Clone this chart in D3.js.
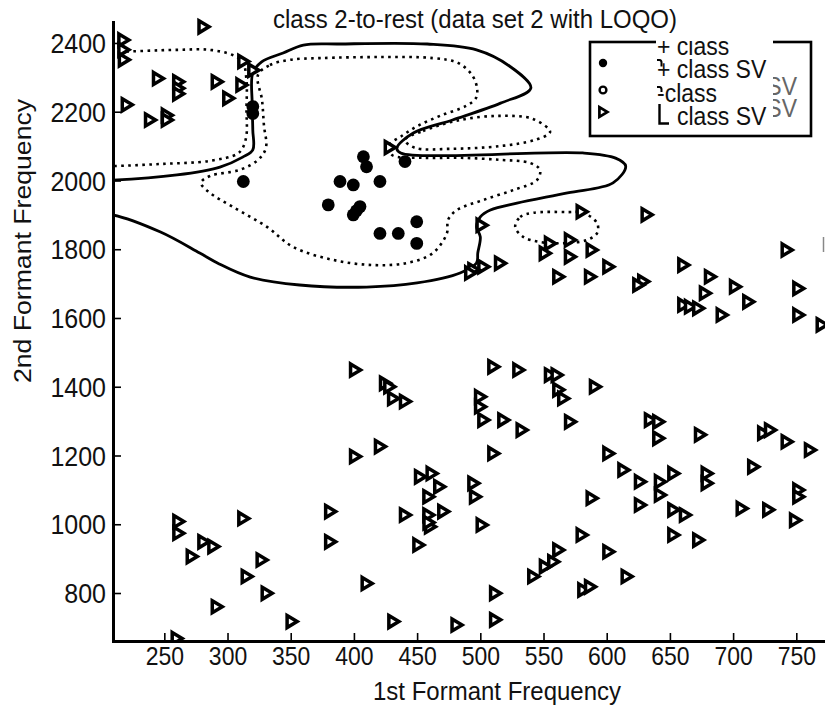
<!DOCTYPE html>
<html>
<head>
<meta charset="utf-8">
<script src="https://cdn.jsdelivr.net/npm/d3@7"></script>
<style>
  body { margin: 0; background: #fff; }
  svg { display: block; }
  text { font-family: "Liberation Sans", Arial, Helvetica, sans-serif; fill: #111; }
</style>
</head>
<body>
<svg id="chart" width="825" height="707"></svg>
<script>
// ---- tick values ----
const xTicks = [250, 300, 350, 400, 450, 500, 550, 600, 650, 700, 750];
const yTicks = [800, 1000, 1200, 1400, 1600, 1800, 2000, 2200, 2400];

// ---- "+" class points (1st formant, 2nd formant) ----
const posClass = [
  [320, 2215], [320, 2195], [407.5, 2069], [410, 2040], [440.4, 2055],
  [312.5, 1997], [389, 1997], [399.5, 1987], [420.6, 1997], [379.7, 1929],
  [404.8, 1924], [399.5, 1900], [402, 1912], [420.6, 1846], [435.1, 1846],
  [449.7, 1880], [449.7, 1817]
];

// ---- "-" class points ----
const negClass = [
  [217.6, 2409], [217.6, 2380], [218, 2351], [220.3, 2220], [281, 2447],
  [245, 2297], [261, 2287], [261, 2268], [261, 2252], [291.5, 2287],
  [300.6, 2239], [311, 2278], [312.5, 2346], [320.4, 2321], [238.7, 2176],
  [252, 2190], [252, 2176],
  [502.4, 1749], [494.5, 1740], [492, 1731], [515.6, 1759], [501, 1870],
  [428.4, 2096], [580.2, 1909], [555.1, 1817], [551, 1788], [570.9, 1827],
  [570.9, 1778], [588.1, 1798], [601.3, 1749], [561.7, 1720], [586.8, 1720],
  [631.6, 1900], [628.9, 1706], [625, 1696], [660.6, 1754], [681.7, 1720],
  [701.5, 1691], [712, 1647], [677.7, 1672], [660.6, 1638], [665.9, 1633],
  [672.4, 1628], [691, 1609], [742.4, 1798], [751.6, 1686], [751.6, 1609],
  [770.1, 1580],
  [400.9, 1449], [424.6, 1410], [428, 1400], [431, 1366], [440.4, 1357],
  [420.6, 1226], [400.9, 1197], [452.3, 1138], [461.5, 1148], [467.5, 1109],
  [458.9, 1080], [470.7, 1037], [458.9, 1027], [460.2, 993], [459, 1005],
  [440.4, 1027], [451, 940], [381.2, 1037], [381.2, 949], [410.1, 828],
  [431.2, 717], [350.7, 717], [291.5, 760], [261.1, 1008], [261.1, 974],
  [271.7, 906], [280.9, 949], [288.8, 935], [312.5, 1017], [327, 896],
  [315.2, 848], [331, 799], [259.8, 668],
  [510.3, 1458], [530.1, 1449], [555.1, 1434], [560.4, 1434], [561.7, 1391],
  [565.6, 1366], [590.7, 1400], [499.8, 1371], [499.8, 1342], [502.4, 1303],
  [518.2, 1303], [532.7, 1274], [571, 1298], [510.3, 1206], [634.2, 1303],
  [640.8, 1298], [640.8, 1250], [673.8, 1260], [601.3, 1206], [613.2, 1158],
  [626.3, 1124], [642.1, 1124], [652.7, 1148], [642.1, 1085], [626.3, 1056],
  [679.1, 1148], [679.1, 1119], [652.7, 1042], [661.9, 1027], [652.7, 969],
  [672.4, 954], [706.8, 1046], [727.8, 1042], [715.9, 1167], [723.8, 1265],
  [729.2, 1274], [742.4, 1240], [760.8, 1216], [751.6, 1100], [751.6, 1080],
  [749, 1012], [588.1, 1076], [494.5, 1119], [495.8, 1080], [501.1, 998],
  [580.2, 969], [601.3, 920], [615.8, 848], [541.9, 848], [551.1, 877],
  [557.7, 891], [561.7, 925], [581.5, 809], [586.8, 818], [511.7, 799],
  [511.7, 722], [481.2, 707]
];

// ---- decision boundary f(x) = 0 (closed, its left part lies off the axes) ----
const boundary = [
  [185, 2000], [209, 2001], [260, 2016], [294, 2039], [312, 2068], [320, 2089],
  [320, 2147], [319.5, 2225], [320, 2313], [327, 2345], [344, 2371], [360, 2394],
  [389, 2397], [458, 2397], [497, 2380], [523, 2333], [540, 2269], [516, 2225],
  [478, 2176], [447, 2138], [434, 2094], [437, 2080], [581, 2080], [607, 2065],
  [615, 2042], [605, 1993], [569, 1964], [529, 1934], [508, 1914], [500, 1894],
  [497, 1865], [500, 1836], [498, 1789], [497, 1760], [484, 1731], [450, 1702],
  [410, 1690], [357, 1696], [318, 1719], [292, 1760], [278, 1789], [247, 1850],
  [209, 1900], [185, 1905]
];

// ---- margin contours f(x) = +/-1 ----
const marginTopLeft = [
  [185, 2374], [209, 2374], [260, 2380], [286, 2380], [304, 2365], [312, 2345],
  [315, 2292], [315, 2205], [315, 2132], [312, 2095], [307.5, 2077], [286, 2057],
  [247, 2048], [209, 2042], [185, 2042]
];
const marginInner = [
  [324.1, 2307], [333.6, 2336], [349.4, 2351], [373.2, 2356], [420.6, 2359],
  [462.5, 2356], [482.3, 2342], [493.4, 2307], [497.4, 2269], [496.6, 2240],
  [488.7, 2217], [468.1, 2188], [450.7, 2159], [438, 2130], [427, 2100],
  [430.1, 2074], [454.7, 2066], [483.9, 2066], [515.6, 2060], [539.3, 2051],
  [547.2, 2031], [544.8, 2001], [525.9, 1972], [502.1, 1943], [481.5, 1914],
  [474.4, 1885], [473.6, 1847], [462.5, 1789], [441.9, 1760], [415, 1754],
  [383.4, 1769], [351.7, 1807], [331.2, 1865], [304.3, 1923], [286.1, 1964],
  [279, 1993], [286.1, 2013], [309.8, 2031], [324.1, 2060], [330.4, 2095],
  [328.8, 2161], [327.3, 2234]
];
const marginWedge = [
  [440.4, 2118], [454.7, 2144], [483.9, 2176], [515.6, 2188], [541.7, 2179],
  [555.2, 2141], [543.3, 2118], [515.6, 2100], [476, 2092], [448.3, 2095]
];
const marginSmall = [
  [527.6, 1865], [531.6, 1894], [541.9, 1906], [568.6, 1908], [581.3, 1906],
  [592.4, 1876], [592.4, 1847], [584.5, 1827], [568.6, 1818], [547.3, 1821],
  [533.9, 1836]
];

// ---- text ----
const titleText = "class 2-to-rest (data set 2 with LOQO)";
const xTitle = "1st Formant Frequency";
const yTitle = "2nd Formant Frequency";
const legendLabels = ["+ class", "+ class SV", "-class", "class SV"];

// ---- layout ----
const TS = 1.11;   // vertical stretch applied to all lettering
const plot = { left: 113, right: 825, top: 22, bottom: 641 };
const svg = d3.select("#chart");

const x = d3.scaleLinear().domain([209.4, 772.7]).range([plot.left, plot.right]);
const y = d3.scaleLinear().domain([660.4, 2461]).range([plot.bottom, plot.top]);

const defs = svg.append("defs");
defs.append("clipPath").attr("id", "clipArea").append("rect")
  .attr("x", plot.left).attr("y", plot.top)
  .attr("width", plot.right - plot.left + 10).attr("height", plot.bottom - plot.top);
defs.append("clipPath").attr("id", "clipMarks").append("rect")
  .attr("x", plot.left).attr("y", 0)
  .attr("width", plot.right - plot.left + 10).attr("height", plot.bottom);

// contours
const closedLine = d3.line()
  .x(d => x(d[0])).y(d => y(d[1]))
  .curve(d3.curveCatmullRomClosed.alpha(0.5));

const contours = svg.append("g").attr("clip-path", "url(#clipArea)")
  .attr("fill", "none").attr("stroke", "#000");

contours.append("path").attr("d", closedLine(boundary))
  .attr("stroke-width", 2.8).attr("stroke-linejoin", "round");

[marginTopLeft, marginInner, marginWedge, marginSmall].forEach(m => {
  contours.append("path").attr("d", closedLine(m))
    .attr("stroke-width", 2.6)
    .attr("stroke-dasharray", "2.6,4.4");
});

// markers
const triPath = "M-4.5,-6L5.5,0L-4.5,6Z";
const marks = svg.append("g").attr("clip-path", "url(#clipMarks)");

marks.selectAll("path.neg").data(negClass).join("path")
  .attr("class", "neg")
  .attr("d", triPath)
  .attr("transform", d => `translate(${x(d[0])},${y(d[1])})`)
  .attr("fill", "#fff").attr("stroke", "#000")
  .attr("stroke-width", 3.5).attr("stroke-linejoin", "miter");

marks.selectAll("circle.pos").data(posClass).join("circle")
  .attr("class", "pos")
  .attr("cx", d => x(d[0])).attr("cy", d => y(d[1]))
  .attr("r", 6.4).attr("fill", "#000");

// axes
const xAxis = d3.axisBottom(x).tickValues(xTicks).tickFormat(d3.format("d"))
  .tickSizeInner(-8).tickSizeOuter(0);
const yAxis = d3.axisLeft(y).tickValues(yTicks).tickFormat(d3.format("d"))
  .tickSizeInner(-8).tickSizeOuter(0);

const gx = svg.append("g").attr("transform", `translate(0,${plot.bottom})`).call(xAxis);
const gy = svg.append("g").attr("transform", `translate(${plot.left},0)`).call(yAxis);

[gx, gy].forEach(g => {
  g.select(".domain").attr("stroke", "#000").attr("stroke-width", 3)
    .attr("stroke-linecap", "square");
  g.selectAll(".tick line").attr("stroke", "#000").attr("stroke-width", 1.6);
  g.selectAll(".tick text")
    .attr("fill", "#111")
    .style("font-family", '"Liberation Sans", Arial, sans-serif');
});
gx.selectAll(".tick text")
  .attr("font-size", 23)
  .attr("y", 0).attr("dy", null)
  .attr("transform", `translate(0,24) scale(1,${TS})`);
gy.selectAll(".tick text")
  .attr("font-size", 25)
  .attr("x", 0).attr("dy", "0.35em")
  .attr("transform", `translate(-7,0) scale(1,${TS})`);

// titles
function stretchedText(parent, tx, ty, str, size, anchor) {
  return parent.append("text")
    .attr("transform", `translate(${tx},${ty}) scale(1,${TS})`)
    .attr("font-size", size).attr("text-anchor", anchor).text(str);
}
stretchedText(svg, 475, 28, titleText, 24, "middle");
stretchedText(svg, 497, 700, xTitle, 24, "middle");
svg.append("text")
  .attr("transform", `translate(31,241) scale(1,${TS}) rotate(-90)`)
  .attr("font-size", 24).attr("text-anchor", "middle").text(yTitle);

// legend
const lg = svg.append("g");
lg.append("rect").attr("x", 590).attr("y", 42).attr("width", 221).attr("height", 94)
  .attr("fill", "#fff").attr("stroke", "#000").attr("stroke-width", 2.6);

stretchedText(lg, 797, 95, "- class SV", 23, "end").style("fill", "#666");
stretchedText(lg, 797, 117, "- class SV", 23, "end").style("fill", "#666");

lg.append("rect").attr("x", 656).attr("y", 38).attr("width", 117).attr("height", 92)
  .attr("fill", "#fff");

defs.append("clipPath").attr("id", "clipLegend").append("rect")
  .attr("x", 590).attr("y", 41).attr("width", 221).attr("height", 95);
const lt = lg.append("g").attr("clip-path", "url(#clipLegend)");
stretchedText(lt, 657, 55, legendLabels[0], 23, "start");
stretchedText(lt, 657, 78, legendLabels[1], 23, "start");
stretchedText(lt, 657, 102, legendLabels[2], 23, "start");
stretchedText(lt, 677, 125, legendLabels[3], 23, "start");

// line-sample fragments of the legend
lg.append("path").attr("d", "M659.5,104V123.5H669")
  .attr("fill", "none").attr("stroke", "#000").attr("stroke-width", 2.4);
lg.append("path").attr("d", "M657,60h2.5q2,0 2,2.5v4")
  .attr("fill", "none").attr("stroke", "#000").attr("stroke-width", 2);
lg.append("path").attr("d", "M657,87h2.5q2,0 2,2.5v2.5")
  .attr("fill", "none").attr("stroke", "#000").attr("stroke-width", 2);

lg.append("circle").attr("cx", 603).attr("cy", 63).attr("r", 4.2).attr("fill", "#000");
lg.append("circle").attr("cx", 603).attr("cy", 90).attr("r", 3.4)
  .attr("fill", "#fff").attr("stroke", "#000").attr("stroke-width", 2.4);
lg.append("path").attr("d", triPath)
  .attr("transform", "translate(603,112) scale(0.8)")
  .attr("fill", "#fff").attr("stroke", "#000").attr("stroke-width", 3.4);

// stray mark at the right edge
svg.append("line").attr("x1", 823.5).attr("x2", 823.5).attr("y1", 237).attr("y2", 252)
  .attr("stroke", "#888").attr("stroke-width", 1.5);
</script>
</body>
</html>
